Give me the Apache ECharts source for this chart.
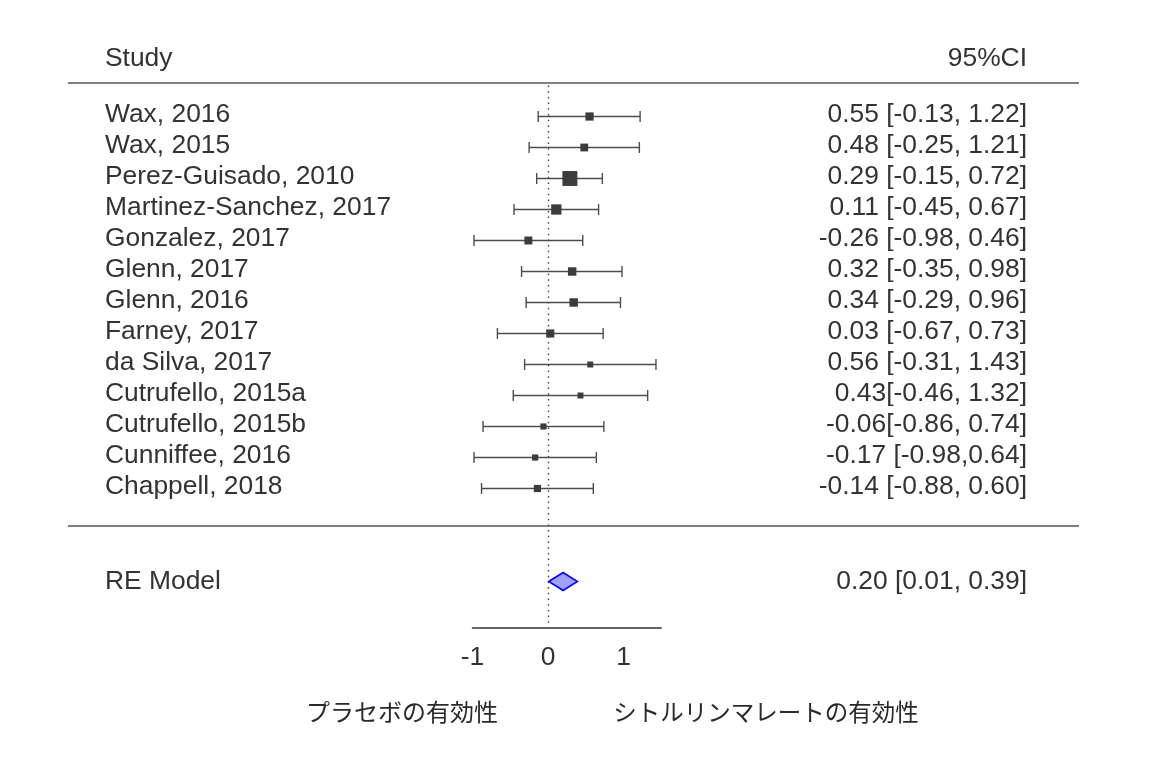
<!DOCTYPE html>
<html>
<head>
<meta charset="utf-8">
<script src="https://cdn.jsdelivr.net/npm/echarts@6/dist/echarts.min.js"></script>
<style>
html,body{margin:0;padding:0;background:#fff;}
#chart{width:1162px;height:764px;}
</style>
</head>
<body>
<div id="chart"></div>
<script>
// ---- data ----
var studies = ["Wax, 2016","Wax, 2015","Perez-Guisado, 2010","Martinez-Sanchez, 2017","Gonzalez, 2017","Glenn, 2017","Glenn, 2016","Farney, 2017","da Silva, 2017","Cutrufello, 2015a","Cutrufello, 2015b","Cunniffee, 2016","Chappell, 2018"];
var estimates = [0.55, 0.48, 0.29, 0.11, -0.26, 0.32, 0.34, 0.03, 0.56, 0.43, -0.06, -0.17, -0.14];
var lowers = [-0.13, -0.25, -0.15, -0.45, -0.98, -0.35, -0.29, -0.67, -0.31, -0.46, -0.86, -0.98, -0.88];
var uppers = [1.22, 1.21, 0.72, 0.67, 0.46, 0.98, 0.96, 0.73, 1.43, 1.32, 0.74, 0.64, 0.60];
var ciTexts = ["0.55 [-0.13, 1.22]","0.48 [-0.25, 1.21]","0.29 [-0.15, 0.72]","0.11 [-0.45, 0.67]","-0.26 [-0.98, 0.46]","0.32 [-0.35, 0.98]","0.34 [-0.29, 0.96]","0.03 [-0.67, 0.73]","0.56 [-0.31, 1.43]","0.43[-0.46, 1.32]","-0.06[-0.86, 0.74]","-0.17 [-0.98,0.64]","-0.14 [-0.88, 0.60]"];
var weights = [8.0, 7.6, 14.5, 10.0, 7.7, 8.2, 8.2, 7.9, 5.8, 5.8, 6.0, 6.0, 7.0];
var reLabel = "RE Model";
var reEstimate = 0.20, reLower = 0.01, reUpper = 0.39;
var reText = "0.20 [0.01, 0.39]";
var xTicks = [-1, 0, 1];
var headerLeft = "Study", headerRight = "95%CI";
var leftNote = "プラセボの有効性", rightNote = "シトルリンマレートの有効性";

// ---- chart ----
var FONT = "'Liberation Sans', Arial, sans-serif";
var FS = '26.4px ';
var TXT = '#333';
var studyData = studies.map(function(s, i){ return [lowers[i], uppers[i], estimates[i], i, weights[i]]; });
var reRow = studies.length + 2;

var chart = echarts.init(document.getElementById('chart'));
chart.setOption({
  animation: false,
  backgroundColor: '#fff',
  grid: {left: 472.5, top: 85.5, width: 188.75, height: 542.5, outerBoundsMode: 'none'},
  xAxis: {
    type: 'value', min: -1, max: 1.5, interval: 1, position: 'bottom',
    splitLine: {show: false},
    axisTick: {show: false},
    axisLine: {show: true, onZero: false, lineStyle: {color: '#333', width: 1.5}},
    axisLabel: {customValues: xTicks, fontSize: 26.4, fontFamily: FONT, color: TXT, margin: 17}
  },
  yAxis: {type: 'value', min: -1, max: 16.5, inverse: true, show: false},
  graphic: [
    {type: 'line', shape: {x1: 68, y1: 83, x2: 1079, y2: 83}, style: {stroke: '#555', lineWidth: 1.5}},
    {type: 'line', shape: {x1: 68, y1: 526, x2: 1079, y2: 526}, style: {stroke: '#555', lineWidth: 1.5}},
    {type: 'text', x: 105, y: 59, style: {text: headerLeft, font: FS + FONT, fill: TXT, textAlign: 'left', textVerticalAlign: 'middle'}},
    {type: 'text', x: 1027, y: 59, style: {text: headerRight, font: FS + FONT, fill: TXT, textAlign: 'right', textVerticalAlign: 'middle'}},
    {type: 'text', x: 402, y: 712, style: {text: leftNote, font: "24px 'Noto Sans CJK JP', sans-serif", fill: '#2a2a2a', textAlign: 'center', textVerticalAlign: 'middle'}},
    {type: 'text', x: 766, y: 712, style: {text: rightNote, font: "23.5px 'Noto Sans CJK JP', sans-serif", fill: '#2a2a2a', textAlign: 'center', textVerticalAlign: 'middle'}}
  ],
  series: [
    {
      type: 'custom',
      clip: false,
      data: studyData,
      encode: {x: [0, 1, 2], y: 3},
      renderItem: function(params, api){
        var i = params.dataIndex;
        var lo = api.coord([api.value(0), api.value(3)]);
        var hi = api.coord([api.value(1), api.value(3)]);
        var est = api.coord([api.value(2), api.value(3)]);
        var side = api.value(4) * 1.03;
        var cap = 5.5;
        var ls = {stroke: '#4d4d4d', lineWidth: 1.4};
        return {
          type: 'group',
          children: [
            {type: 'line', shape: {x1: lo[0], y1: lo[1], x2: hi[0], y2: hi[1]}, style: ls},
            {type: 'line', shape: {x1: lo[0], y1: lo[1] - cap, x2: lo[0], y2: lo[1] + cap}, style: ls},
            {type: 'line', shape: {x1: hi[0], y1: hi[1] - cap, x2: hi[0], y2: hi[1] + cap}, style: ls},
            {type: 'rect', shape: {x: est[0] - side / 2, y: est[1] - side / 2, width: side, height: side}, style: {fill: '#3c3c3c'}},
            {type: 'text', x: 105, y: est[1] - 2, style: {text: studies[i], font: FS + FONT, fill: TXT, textAlign: 'left', textVerticalAlign: 'middle'}},
            {type: 'text', x: 1027, y: est[1] - 2, style: {text: ciTexts[i], font: FS + FONT, fill: TXT, textAlign: 'right', textVerticalAlign: 'middle'}}
          ]
        };
      },
      markLine: {
        silent: true,
        symbol: 'none',
        label: {show: false},
        lineStyle: {color: '#444', width: 1.4, type: [1.5, 4.2]},
        data: [[{coord: [0, -1]}, {coord: [0, 16.4]}]]
      },
      z: 3
    },
    {
      type: 'custom',
      clip: false,
      data: [[reLower, reUpper, reEstimate, reRow]],
      encode: {x: [0, 1, 2], y: 3},
      renderItem: function(params, api){
        var lo = api.coord([api.value(0), api.value(3)]);
        var hi = api.coord([api.value(1), api.value(3)]);
        var est = api.coord([api.value(2), api.value(3)]);
        var h = 9;
        return {
          type: 'group',
          children: [
            {type: 'polygon', shape: {points: [[lo[0], lo[1]], [est[0], est[1] - h], [hi[0], hi[1]], [est[0], est[1] + h]]}, style: {fill: '#a0a0ff', stroke: '#0000ff', lineWidth: 1.5}},
            {type: 'text', x: 105, y: est[1], style: {text: reLabel, font: FS + FONT, fill: TXT, textAlign: 'left', textVerticalAlign: 'middle'}},
            {type: 'text', x: 1027, y: est[1], style: {text: reText, font: FS + FONT, fill: TXT, textAlign: 'right', textVerticalAlign: 'middle'}}
          ]
        };
      },
      z: 4
    }
  ]
});
</script>
</body>
</html>
